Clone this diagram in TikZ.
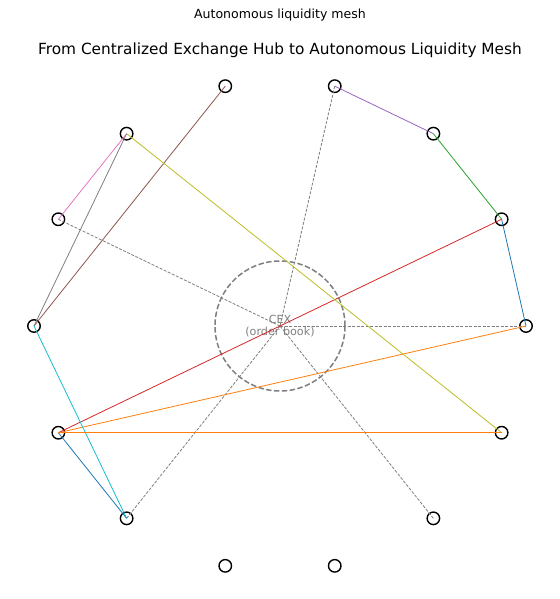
\documentclass[tikz,border=0pt]{standalone}
\usepackage{fontspec}
\setmainfont{DejaVu Sans}
\definecolor{tabblue}{HTML}{1F77B4}
\definecolor{taborange}{HTML}{FF7F0E}
\definecolor{tabgreen}{HTML}{2CA02C}
\definecolor{tabred}{HTML}{D62728}
\definecolor{tabpurple}{HTML}{9467BD}
\definecolor{tabbrown}{HTML}{8C564B}
\definecolor{tabpink}{HTML}{E377C2}
\definecolor{tabgray}{HTML}{7F7F7F}
\definecolor{tabolive}{HTML}{BCBD22}
\definecolor{tabcyan}{HTML}{17BECF}
\tikzset{
    peer/.style={circle, draw=black, line width=1.4bp, minimum size=12.5bp, inner sep=0pt},
    hubring/.style={circle, draw=tabgray, line width=1.5bp, dash pattern=on 5.5bp off 2.4bp, minimum size=130bp, inner sep=0pt},
    tohub/.style={draw=tabgray, line width=0.8bp, dash pattern=on 3bp off 1.5bp},
    link/.style={line width=0.8bp}
}
\begin{document}
\begin{tikzpicture}[x=1bp, y=1bp]
    \useasboundingbox (-280,-273) rectangle (280,326);
    \node at (0,311) (subtitle) {\fontsize{12.6}{15}\selectfont Autonomous liquidity mesh};
    \node at (0,276) (title) {\fontsize{15.4}{18}\selectfont From Centralized Exchange Hub to Autonomous Liquidity Mesh};
    \node[hubring] (hub) at (0,0) {};
    \node[align=center, text=tabgray, font=\fontsize{11.2}{12.5}\selectfont] (hublabel) at (0,0) {CEX\\(order book)};
    \foreach \k in {0,...,13} {
        \node[peer] (p\k) at ({\k*360/14}:246) {};
    }
    \foreach \k in {6,3,0,9,12} {
        \draw[tohub] (hub.center) -- (p\k.center);
    }
    \draw[link, tabblue] (p1.center) -- (p0.center);
    \draw[link, taborange] (p0.center) -- (p8.center);
    \draw[link, tabgreen] (p2.center) -- (p1.center);
    \draw[link, tabred] (p1.center) -- (p8.center);
    \draw[link, tabpurple] (p3.center) -- (p2.center);
    \draw[link, tabbrown] (p7.center) -- (p4.center);
    \draw[link, tabpink] (p5.center) -- (p6.center);
    \draw[link, tabgray] (p7.center) -- (p5.center);
    \draw[link, tabolive] (p5.center) -- (p13.center);
    \draw[link, tabcyan] (p7.center) -- (p9.center);
    \draw[link, tabblue] (p8.center) -- (p9.center);
    \draw[link, taborange] (p13.center) -- (p8.center);
\end{tikzpicture}
\end{document}
